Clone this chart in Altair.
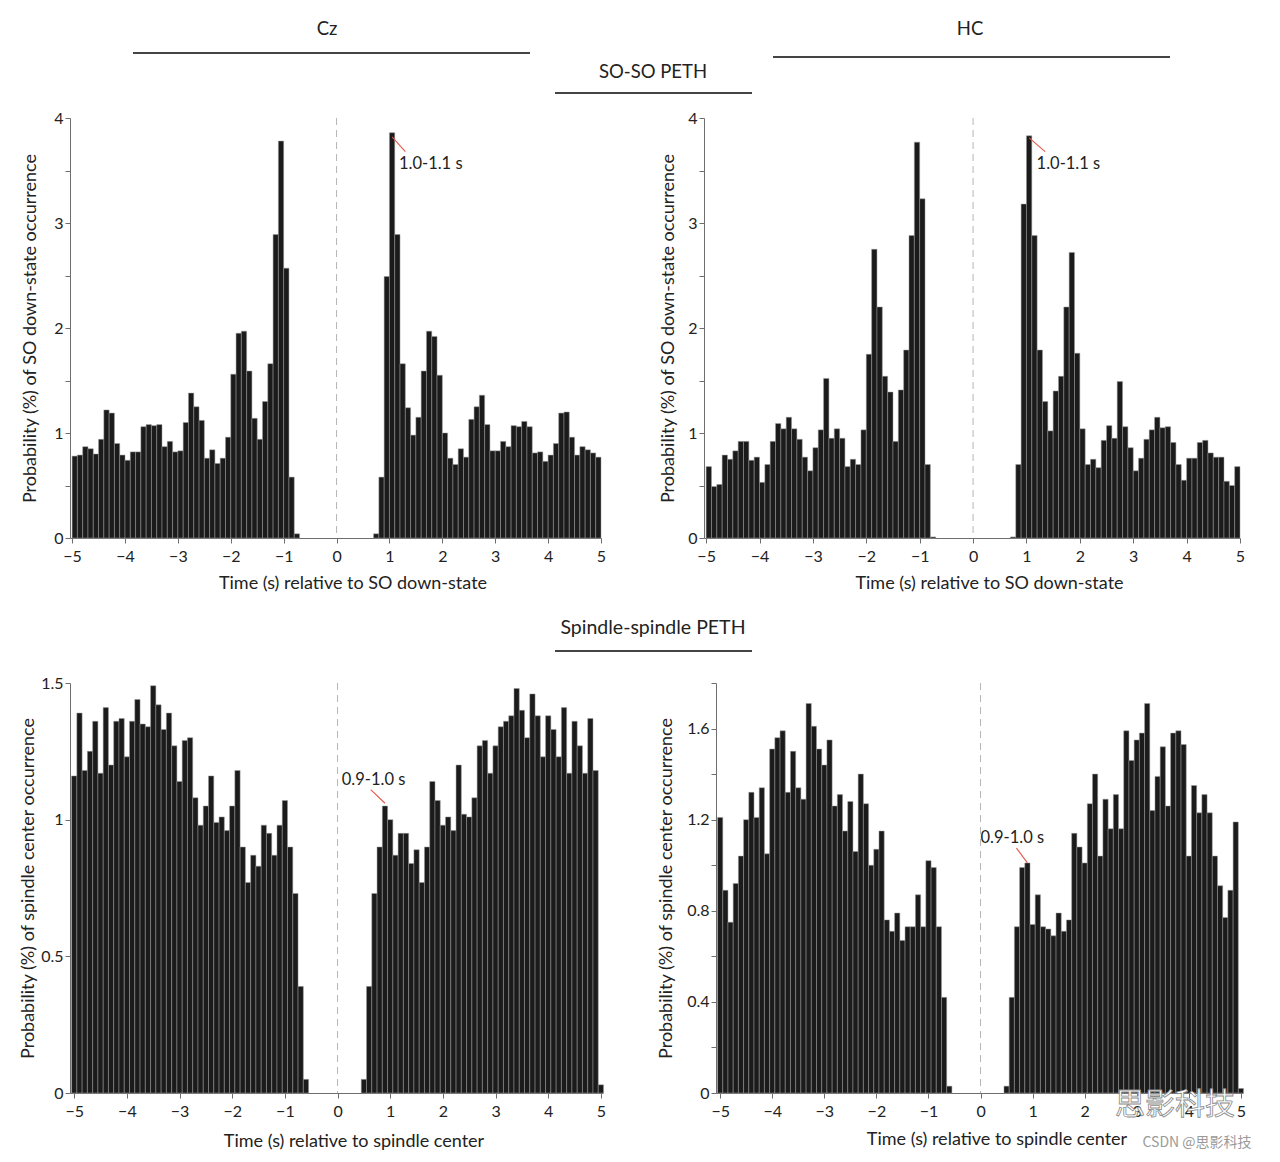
import altair as alt
import pandas as pd

# ---------------- data ----------------
# SO-SO PETH, 0.1 s bins; left bins start at -5.0, right bins start at 0.7
so_cz_left = [0.78,0.79,0.87,0.85,0.80,0.94,1.22,1.19,0.90,0.79,0.74,0.82,0.82,1.06,1.08,1.07,1.08,0.87,0.92,0.82,
              0.83,1.10,1.38,1.25,1.12,0.76,0.84,0.71,0.76,0.96,1.56,1.95,1.97,1.59,1.14,0.94,1.30,1.66,2.89,3.78,
              2.57,0.58,0.04]
so_cz_right = [0.04,0.58,2.49,3.86,2.89,1.66,1.24,0.98,1.15,1.59,1.97,1.92,1.55,1.00,0.76,0.70,0.85,0.77,1.13,1.25,
               1.36,1.08,0.83,0.83,0.92,0.87,1.07,1.06,1.11,1.06,0.81,0.82,0.73,0.79,0.90,1.19,1.20,0.96,0.79,0.87,
               0.84,0.81,0.77]
so_hc_left = [0.68,0.49,0.51,0.79,0.75,0.83,0.92,0.92,0.74,0.77,0.53,0.70,0.92,1.09,1.04,1.15,1.04,0.94,0.77,0.64,
              0.86,1.03,1.52,0.95,1.04,0.95,0.68,0.75,0.70,1.03,1.75,2.75,2.20,1.54,1.39,0.92,1.41,1.79,2.88,3.77,
              3.23,0.70,0.01]
so_hc_right = [0.01,0.70,3.18,3.83,2.88,1.79,1.30,1.02,1.40,1.54,2.20,2.72,1.76,1.04,0.70,0.75,0.67,0.93,1.07,0.95,
               1.49,1.06,0.86,0.64,0.76,0.94,1.03,1.15,1.05,1.06,0.91,0.70,0.55,0.76,0.76,0.91,0.93,0.81,0.77,0.77,
               0.54,0.50,0.68]
so_left_start, so_right_start = -5.0, 0.7

# Spindle-spindle PETH, 0.1 s bins centred on -5.0 ... -0.6 and 0.5 ... 5.0
sp_cz_left = [1.16,1.39,1.18,1.25,1.36,1.17,1.41,1.20,1.36,1.37,1.23,1.36,1.44,1.35,1.34,1.49,1.42,1.33,1.39,1.27,
              1.14,1.29,1.30,1.08,0.98,1.05,1.16,0.99,1.01,0.96,1.05,1.18,0.90,0.77,0.87,0.83,0.98,0.95,0.87,0.98,
              1.07,0.90,0.73,0.39,0.05]
sp_cz_right = [0.05,0.39,0.73,0.90,1.05,1.00,0.87,0.95,0.95,0.84,0.89,0.77,0.90,1.14,1.07,0.98,1.01,0.96,1.20,1.02,
               1.01,1.08,1.27,1.29,1.17,1.27,1.34,1.36,1.38,1.48,1.40,1.30,1.46,1.38,1.23,1.38,1.33,1.23,1.41,1.17,
               1.36,1.27,1.17,1.37,1.18,0.03]
sp_hc_left = [1.21,0.89,0.75,0.92,1.04,1.20,1.32,1.21,1.34,1.05,1.51,1.56,1.59,1.32,1.50,1.34,1.29,1.71,1.61,1.51,
              1.44,1.55,1.26,1.31,1.15,1.28,1.06,1.40,1.27,1.00,1.07,1.15,0.76,0.71,0.79,0.67,0.73,0.73,0.87,0.73,
              1.02,0.99,0.73,0.42,0.03]
sp_hc_right = [0.03,0.42,0.73,0.99,1.01,0.74,0.87,0.73,0.72,0.69,0.79,0.71,0.76,1.14,1.08,1.01,1.27,1.40,1.04,1.29,
               1.16,1.31,1.16,1.59,1.46,1.55,1.58,1.71,1.24,1.39,1.52,1.26,1.58,1.59,1.53,1.04,1.35,1.23,1.31,1.23,
               1.04,0.91,0.77,0.89,1.19,0.02]
sp_left_centre, sp_right_centre = -5.0, 0.5

x_ticks = [-5, -4, -3, -2, -1, 0, 1, 2, 3, 4, 5]
so_y_ticks = [0, 0.5, 1, 1.5, 2, 2.5, 3, 3.5, 4]
sp_cz_y_ticks = [0, 0.5, 1, 1.5]
sp_hc_y_ticks = [0, 0.2, 0.4, 0.6, 0.8, 1.0, 1.2, 1.4, 1.6, 1.8]

so_label = "1.0-1.1 s"
sp_label = "0.9-1.0 s"
# annotation anchors: (line start x, y, line end x, y, text x, y)
ann_so_cz = [1.30, 3.68, 1.05, 3.82, 1.18, 3.56]
ann_so_hc = [1.35, 3.68, 1.05, 3.81, 1.19, 3.56]
ann_sp_cz = [0.63, 1.11, 0.90, 1.06, 0.08, 1.145]
ann_sp_hc = [0.69, 1.075, 0.90, 1.01, 0.00, 1.12]

FONT = "Lato"
BAR_FILL = "#1b1b1b"
AX = "#6e6e6e"


def bins_from_start(values, start):
    rows = []
    for i, v in enumerate(values):
        a = round(start + i * 0.1, 2)
        rows.append({"x0": a, "x1": round(a + 0.1, 2), "p": v, "b": 0.0})
    return rows


def bins_from_centre(values, centre):
    rows = []
    for i, v in enumerate(values):
        c = centre + i * 0.1
        rows.append({"x0": round(c - 0.05, 3), "x1": round(c + 0.05, 3), "p": v, "b": 0.0})
    return rows


def panel(rows, xdom, ydom, yticks, label_step, xtitle, ytitle, w, h, ann, label, ytpad, xtpad,
          extra=None):
    df = pd.DataFrame(rows)
    xs = alt.Scale(domain=xdom, nice=False, zero=False)
    ys = alt.Scale(domain=ydom, nice=False)
    xaxis = alt.Axis(values=x_ticks, title=xtitle, grid=False, tickSize=5, labelPadding=5,
                     titlePadding=xtpad, titleX=w / 2 + 17, labelFontSize=16, titleFontSize=18,
                     titleFontWeight="normal", domainColor=AX, tickColor=AX, labelColor="#222",
                     titleColor="#222", labelFlush=False)
    yaxis = alt.Axis(values=yticks, title=ytitle, grid=False, tickSize=5, labelPadding=2, format="~g",
                     titlePadding=ytpad, labelFontSize=16, titleFontSize=18, titleFontWeight="normal",
                     domainColor=AX, tickColor=AX, labelColor="#222", titleColor="#222",
                     labelExpr=f"abs(datum.value/{label_step} - round(datum.value/{label_step})) < 0.001 ? datum.label : ''")
    X = lambda f: alt.X(f, type="quantitative", scale=xs, axis=xaxis)
    Y = lambda f: alt.Y(f, type="quantitative", scale=ys, axis=yaxis)

    bars = alt.Chart(df).mark_bar(fill=BAR_FILL, stroke="#9a9a9a", strokeWidth=0.5).encode(
        x=X("x0"), x2=alt.X2("x1"), y=Y("p"), y2=alt.Y2("b"))
    zero = alt.Chart(pd.DataFrame({"x0": [0.0]})).mark_rule(
        color="#b5b5b5", strokeDash=[7, 5], strokeWidth=1).encode(x=X("x0"))
    a = pd.DataFrame({"x0": [ann[0]], "p": [ann[1]], "x1": [ann[2]], "p2": [ann[3]],
                      "tx": [ann[4]], "ty": [ann[5]], "t": [label]})
    line = alt.Chart(a).mark_rule(color="#e5574a", strokeWidth=1.1).encode(
        x=X("x0"), y=Y("p"), x2=alt.X2("x1"), y2=alt.Y2("p2"))
    text = alt.Chart(a).mark_text(align="left", baseline="middle", fontSize=16.5, font=FONT,
                                  color="#222").encode(x=X("tx"), y=Y("ty"), text="t:N")
    layers = [bars, zero, line, text]
    if extra:
        layers += extra
    return alt.layer(*layers).properties(width=w, height=h)


one = pd.DataFrame({"k": [0]})


def htext(s, x, y, size=18.5):
    return alt.Chart(one).mark_text(text=s, fontSize=size, font=FONT, color="#222",
                                    align="center", baseline="middle").encode(
        x=alt.value(x), y=alt.value(y))


def hrule(x1, x2, y):
    return alt.Chart(one).mark_rule(color="#444", strokeWidth=2).encode(
        x=alt.value(x1), x2=alt.value(x2), y=alt.value(y))


header1 = alt.layer(
    htext("Cz", 257, 21), hrule(63, 460, 45),
    htext("HC", 900, 21), hrule(703, 1100, 49),
    htext("SO-SO PETH", 583, 64), hrule(485, 682, 85),
).properties(width=1120, height=102)

header2 = alt.layer(
    htext("Spindle-spindle PETH", 583, 36, 19.5), hrule(485, 682, 59),
).properties(width=1120, height=83)

so_xdom = [-5.04, 5.0]
sp_xdom = [-5.08, 5.04]

p1 = panel(bins_from_start(so_cz_left, so_left_start) + bins_from_start(so_cz_right, so_right_start),
           so_xdom, [0, 4], so_y_ticks, 1, "Time (s) relative to SO down-state",
           "Probability (%) of SO down-state occurrence", 531, 420, ann_so_cz, so_label, 14, 10)
p2 = panel(bins_from_start(so_hc_left, so_left_start) + bins_from_start(so_hc_right, so_right_start),
           so_xdom, [0, 4], so_y_ticks, 1, "Time (s) relative to SO down-state",
           "Probability (%) of SO down-state occurrence", 536, 420, ann_so_hc, so_label, 10, 10)

wm = [
    alt.Chart(one).mark_text(text="思影科技", fontSize=30, font="Noto Sans CJK SC", fill="white",
                             stroke="#8a8a8a", strokeWidth=0.8, align="center", baseline="middle").encode(
        x=alt.value(459), y=alt.value(422)),
    alt.Chart(one).mark_text(text="CSDN @思影科技", fontSize=14, font="Noto Sans CJK SC", color="#9a9a9a",
                             align="center", baseline="middle").encode(
        x=alt.value(481), y=alt.value(460)),
]

p3 = panel(bins_from_centre(sp_cz_left, sp_left_centre) + bins_from_centre(sp_cz_right, sp_right_centre),
           sp_xdom, [0, 1.5], sp_cz_y_ticks, 0.5, "Time (s) relative to spindle center",
           "Probability (%) of spindle center occurrence", 533, 410, ann_sp_cz, sp_label, 3, 13)
p4 = panel(bins_from_centre(sp_hc_left, sp_left_centre) + bins_from_centre(sp_hc_right, sp_right_centre),
           sp_xdom, [0, 1.8], sp_hc_y_ticks, 0.4, "Time (s) relative to spindle center",
           "Probability (%) of spindle center occurrence", 527, 410, ann_sp_hc, sp_label, 11, 11,
           extra=wm)

row1 = alt.hconcat(p1, p2, spacing=53)
row2 = alt.hconcat(p3, p4, spacing=51)

chart = alt.concat(header1, row1, header2, row2, columns=1, spacing=0, align="none").properties(
    padding={"left": 11, "top": 0, "right": 0, "bottom": 0}
).configure(font=FONT).configure_view(strokeWidth=0)

chart.save("out.html", embed_options={"renderer": "svg", "actions": False})
